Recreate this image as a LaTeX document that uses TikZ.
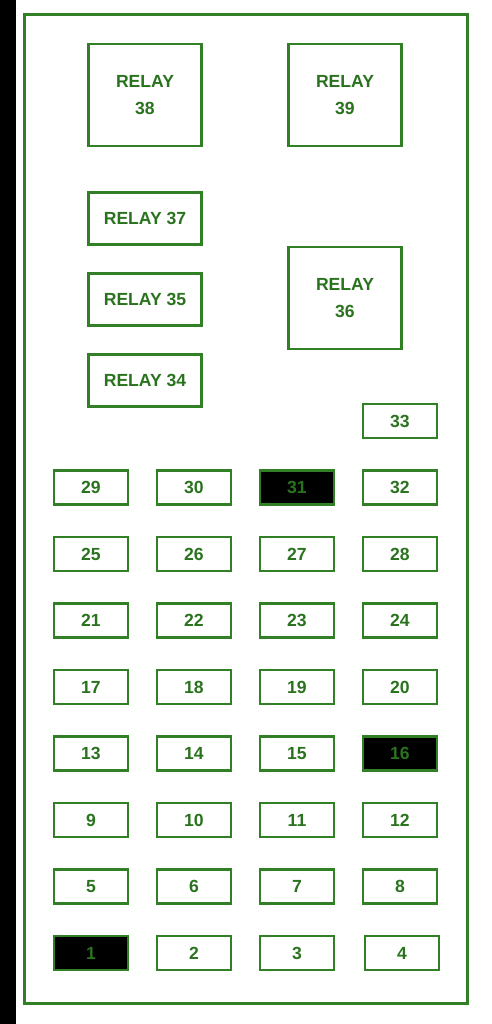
\documentclass[tikz,border=0pt]{standalone}
\usepackage{fontspec}
\setmainfont{Liberation Sans}
\usepackage{tikz}
\usetikzlibrary{positioning}

\definecolor{boxgreen}{RGB}{50,128,38}
\definecolor{labelgreen}{RGB}{42,115,30}

\begin{document}
\begin{tikzpicture}
  [
    x=0.2mm, y=-0.2mm,
    fuse/.style={draw=boxgreen, line width=0.45mm, minimum width=14.8mm,
      minimum height=6.8mm, inner sep=0pt, font=\bfseries\fontsize{10}{12}\selectfont,
      text=labelgreen},
    blown/.style={fuse, fill=black},
    relaybig/.style={fuse, minimum width=22.6mm, minimum height=20.4mm,
      align=center, font=\bfseries\fontsize{10}{15}\selectfont},
    relaysmall/.style={fuse, minimum width=22.6mm, minimum height=10.4mm}
  ]
  \useasboundingbox (0,0) rectangle (491,1024);
  \fill[black] (0,0) rectangle (16,1024);
  \draw[boxgreen, line width=0.6mm] (24,14) rectangle (467,1003);

  \node (r38) at (145, 95)    [relaybig]   {RELAY\\38};
  \node (r39) at (345, 95)    [relaybig]   {RELAY\\39};
  \node (r37) at (145, 218.5) [relaysmall] {RELAY 37};
  \node (r35) at (145, 299.5) [relaysmall] {RELAY 35};
  \node (r34) at (145, 380.5) [relaysmall] {RELAY 34};
  \node (r36) at (345, 298)   [relaybig]   {RELAY\\36};

  \node (f33) at (400, 421) [fuse] {33};

  \node (f29) at (91, 487.5)  [fuse]  {29};
  \node (f30) at (194, 487.5) [fuse]  {30};
  \node (f31) at (297, 487.5) [blown] {31};
  \node (f32) at (400, 487.5) [fuse]  {32};

  \node (f25) at (91, 554)  [fuse] {25};
  \node (f26) at (194, 554) [fuse] {26};
  \node (f27) at (297, 554) [fuse] {27};
  \node (f28) at (400, 554) [fuse] {28};

  \node (f21) at (91, 620.5)  [fuse] {21};
  \node (f22) at (194, 620.5) [fuse] {22};
  \node (f23) at (297, 620.5) [fuse] {23};
  \node (f24) at (400, 620.5) [fuse] {24};

  \node (f17) at (91, 687)  [fuse] {17};
  \node (f18) at (194, 687) [fuse] {18};
  \node (f19) at (297, 687) [fuse] {19};
  \node (f20) at (400, 687) [fuse] {20};

  \node (f13) at (91, 753.5)  [fuse]  {13};
  \node (f14) at (194, 753.5) [fuse]  {14};
  \node (f15) at (297, 753.5) [fuse]  {15};
  \node (f16) at (400, 753.5) [blown] {16};

  \node (f9)  at (91, 820)  [fuse] {9};
  \node (f10) at (194, 820) [fuse] {10};
  \node (f11) at (297, 820) [fuse] {11};
  \node (f12) at (400, 820) [fuse] {12};

  \node (f5) at (91, 886.5)  [fuse] {5};
  \node (f6) at (194, 886.5) [fuse] {6};
  \node (f7) at (297, 886.5) [fuse] {7};
  \node (f8) at (400, 886.5) [fuse] {8};

  \node (f1) at (91, 953)  [blown] {1};
  \node (f2) at (194, 953) [fuse]  {2};
  \node (f3) at (297, 953) [fuse]  {3};
  \node (f4) at (402, 953) [fuse]  {4};
\end{tikzpicture}
\end{document}
